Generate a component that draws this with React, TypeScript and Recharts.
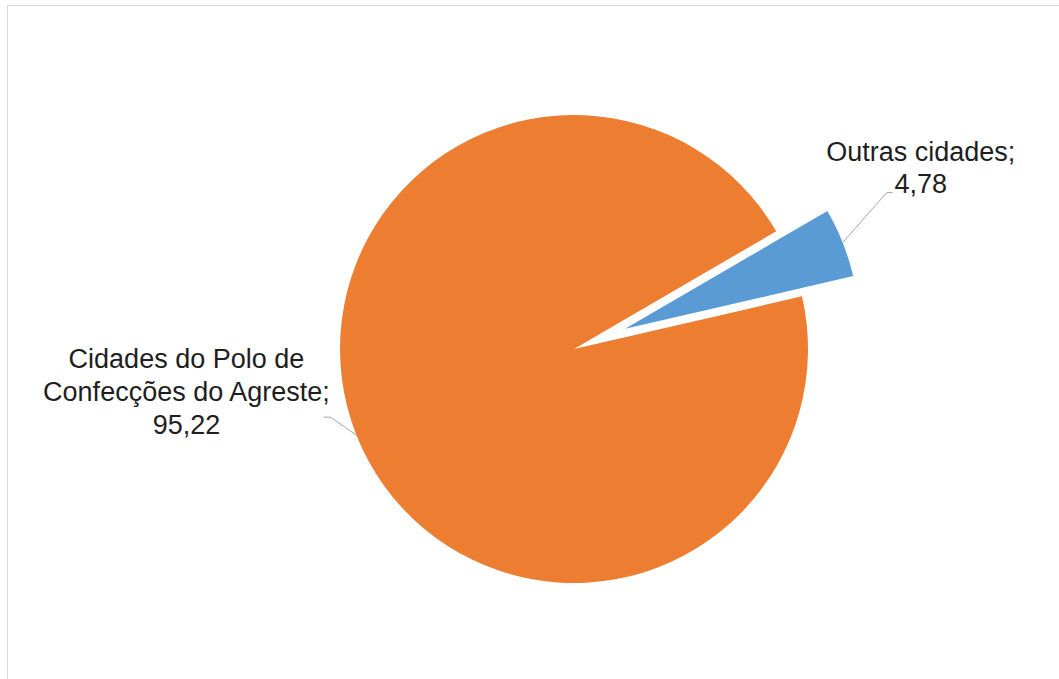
import React from 'react';
import { PieChart, Pie, Cell } from 'recharts';

const categories = ['Outras cidades', 'Cidades do Polo de Confecções do Agreste'];
const values = [4.78, 95.22];
const labelTexts = [
  ['Outras cidades;', '4,78'],
  ['Cidades do Polo de', 'Confecções do Agreste;', '95,22'],
];
const colors = ['#5B9BD5', '#ED7D31'];

const data = categories.map((name, i) => ({ name, value: values[i] }));

const W = 1059;
const H = 679;
const CX = 574;
const CY = 349;
const R = 234;
const START = 13;
const EXPLODE = 55;

const total = values.reduce((a, b) => a + b, 0);
const blueMid = START + (360 * values[0]) / total / 2;
const RAD = Math.PI / 180;
const ECX = CX + EXPLODE * Math.cos(blueMid * RAD);
const ECY = CY - EXPLODE * Math.sin(blueMid * RAD);

const polar = (cx: number, cy: number, r: number, a: number) => ({
  x: cx + r * Math.cos(-a * RAD),
  y: cy + r * Math.sin(-a * RAD),
});

const textStyle = {
  fontFamily: '"Liberation Sans", Arial, sans-serif',
  fontSize: 27,
  fill: '#1e1e1e',
};

const lineColor = '#a6a6a6';

const renderMainLabel = (props: any) => {
  if (props.index !== 1) return null;
  const p = polar(props.cx, props.cy, props.outerRadius, props.midAngle);
  const lines = labelTexts[1];
  const ys = [-67, -34, -1];
  return (
    <g>
      <polyline
        points={`${p.x},${p.y} ${p.x - 26},${p.y - 18} ${p.x - 33},${p.y - 18}`}
        fill="none"
        stroke={lineColor}
        strokeWidth={1}
      />
      {lines.map((t, i) => (
        <text key={i} x={p.x - 170} y={p.y + ys[i]} textAnchor="middle" style={textStyle}>
          {t}
        </text>
      ))}
    </g>
  );
};

const renderExplodedLabel = (props: any) => {
  if (props.index !== 0) return null;
  const p = polar(props.cx, props.cy, props.outerRadius, props.midAngle);
  const lines = labelTexts[0];
  const ys = [-82, -50];
  return (
    <g>
      <polyline
        points={`${p.x},${p.y} ${p.x + 44},${p.y - 50} ${p.x + 50},${p.y - 50}`}
        fill="none"
        stroke={lineColor}
        strokeWidth={1}
      />
      {lines.map((t, i) => (
        <text key={i} x={p.x + 78} y={p.y + ys[i]} textAnchor="middle" style={textStyle}>
          {t}
        </text>
      ))}
    </g>
  );
};

export default function App() {
  return (
    <div
      style={{
        position: 'absolute',
        left: 0,
        top: 0,
        width: W,
        height: H,
        overflow: 'hidden',
        background: '#fff',
      }}
    >
      <div
        style={{
          position: 'absolute',
          left: 7,
          top: 5,
          width: W + 40,
          height: H + 40,
          border: '1px solid #d9d9d9',
          boxSizing: 'border-box',
        }}
      />
      <div style={{ position: 'absolute', left: 0, top: 0 }}>
        <PieChart width={W} height={H} margin={{ top: 0, right: 0, bottom: 0, left: 0 }}>
          <Pie
            data={data}
            dataKey="value"
            nameKey="name"
            cx={CX}
            cy={CY}
            outerRadius={R}
            startAngle={START}
            endAngle={START + 360}
            stroke="none"
            label={renderMainLabel}
            labelLine={false}
            isAnimationActive={false}
          >
            {data.map((d, i) => (
              <Cell key={d.name} fill={i === 1 ? colors[1] : 'transparent'} />
            ))}
          </Pie>
          <Pie
            data={data}
            dataKey="value"
            nameKey="name"
            cx={ECX}
            cy={ECY}
            outerRadius={R}
            startAngle={START}
            endAngle={START + 360}
            stroke="none"
            label={renderExplodedLabel}
            labelLine={false}
            isAnimationActive={false}
          >
            {data.map((d, i) => (
              <Cell key={d.name} fill={i === 0 ? colors[0] : 'transparent'} />
            ))}
          </Pie>
        </PieChart>
      </div>
    </div>
  );
}
